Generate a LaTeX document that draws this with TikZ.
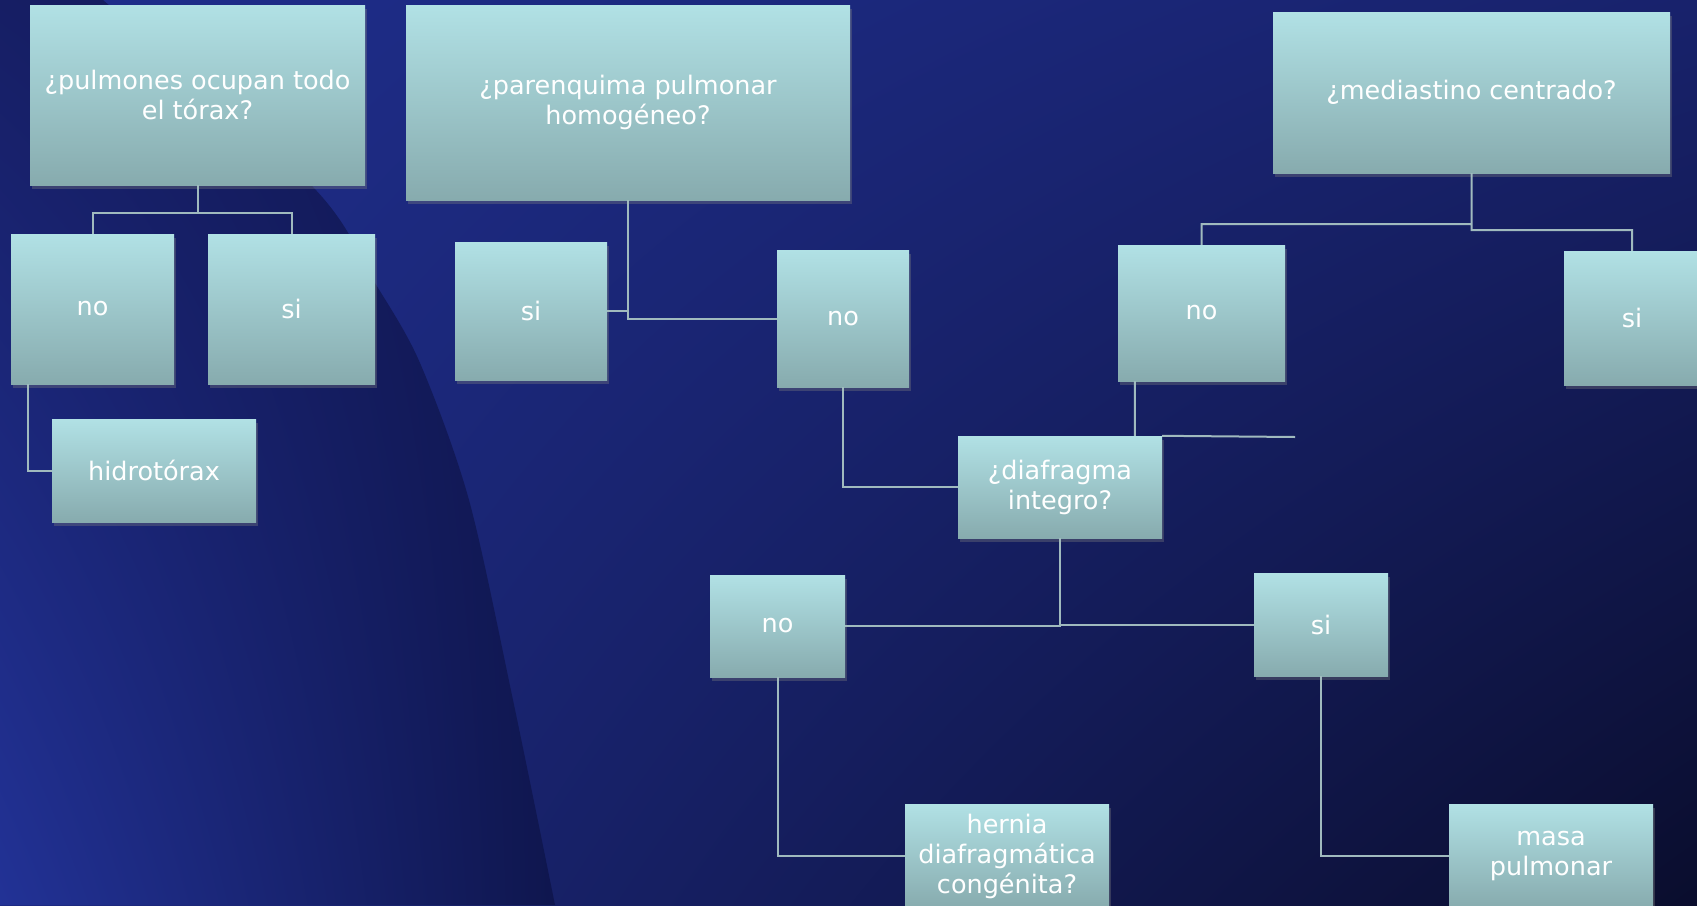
\documentclass[tikz,border=0pt]{standalone}
\usepackage{fontspec}
\setmainfont{DejaVu Sans}
\usetikzlibrary{positioning,shadows,shadings}
\definecolor{boxtop}{RGB}{177,225,229}
\definecolor{boxbot}{RGB}{135,171,174}
\definecolor{linkcol}{RGB}{160,186,190}
\definecolor{bgul}{RGB}{31,46,140}
\definecolor{bgur}{RGB}{24,34,108}
\definecolor{bgll}{RGB}{29,42,130}
\definecolor{bglr}{RGB}{10,13,45}
\definecolor{arcul}{RGB}{22,30,100}
\definecolor{arcur}{RGB}{16,22,80}
\definecolor{arcll}{RGB}{34,50,150}
\definecolor{arclr}{RGB}{15,22,78}
\tikzstyle{box}=[rectangle,inner sep=0pt,top color=boxtop,bottom color=boxbot,text=white,align=center,
  font=\fontsize{25.5pt}{30pt}\selectfont,drop shadow={shadow xshift=2pt,shadow yshift=-4pt,opacity=.35}]
\tikzstyle{link}=[draw=linkcol,line width=2pt]

\begin{document}
\begin{tikzpicture}[x=1pt,y=-1pt]
  \useasboundingbox (0,0) rectangle (1697,905);
  % background
  \shade[upper left=bgul,upper right=bgur,lower left=bgll,lower right=bglr] (0,0) rectangle (1697,905);
  \shade[upper left=arcul,upper right=arcur,lower left=arcll,lower right=arclr]
    (0,0) -- plot[smooth] coordinates {(103,0) (313,187) (375,283) (420,363) (469,500) (513,700) (555,905)}
    -- (0,905) -- cycle;

  \node[box,minimum width=335pt,minimum height=180pt] (pulm) at (197.5,95) {¿pulmones ocupan todo\\el tórax?};
  \node[box,minimum width=163pt,minimum height=150pt] (noA) at (92.5,309) {no};
  \node[box,minimum width=167pt,minimum height=150pt] (siA) at (291.5,309) {si};
  \node[box,minimum width=204pt,minimum height=103pt] (hidro) at (154,470.5) {hidrotórax};

  \node[box,minimum width=444pt,minimum height=195pt] (paren) at (628,102.5) {¿parenquima pulmonar\\homogéneo?};
  \node[box,minimum width=152pt,minimum height=138pt] (siB) at (531,311) {si};
  \node[box,minimum width=132pt,minimum height=137pt] (noB) at (843,318.5) {no};

  \node[box,minimum width=397pt,minimum height=161pt] (medi) at (1471.5,92.5) {¿mediastino centrado?};
  \node[box,minimum width=167pt,minimum height=136pt] (noC) at (1201.5,313) {no};
  \node[box,minimum width=136pt,minimum height=134pt] (siC) at (1632,318) {si};

  \node[box,minimum width=204pt,minimum height=102pt] (diaf) at (1060,487) {¿diafragma\\integro?};
  \node[box,minimum width=135pt,minimum height=102pt] (noD) at (777.5,626) {no};
  \node[box,minimum width=134pt,minimum height=103pt] (siD) at (1321,624.5) {si};
  \node[box,minimum width=204pt,minimum height=104pt] (hern) at (1007,856) {hernia\\diafragmática\\congénita?};
  \node[box,minimum width=204pt,minimum height=104pt] (masa) at (1551,856) {masa\\pulmonar};

  \coordinate (stub) at (1295,437);

  \path[link] (pulm.south) -- ++(0,28) -| (noA.north)
    (pulm.south) -- ++(0,28) -| (siA.north)
    ([xshift=17pt]noA.south west) |- (hidro.west);
  \path[link] (paren.south) |- (noB.west)
    (siB.east) -- (siB.east -| paren.south)
    (noB.south) |- (diaf.west);
  \path[link] (medi.south) -- ++(0,51) -| (noC.north)
    (medi.south) -- ++(0,57) -| (siC.north)
    ([xshift=17pt]noC.south west) -- ([xshift=17pt]noC.south west |- diaf.north)
    (diaf.north east) -- (stub);
  \path[link] (diaf.south) |- (noD.east)
    (diaf.south) |- (siD.west)
    (noD.south) |- (hern.west)
    (siD.south) |- (masa.west);
\end{tikzpicture}
\end{document}
